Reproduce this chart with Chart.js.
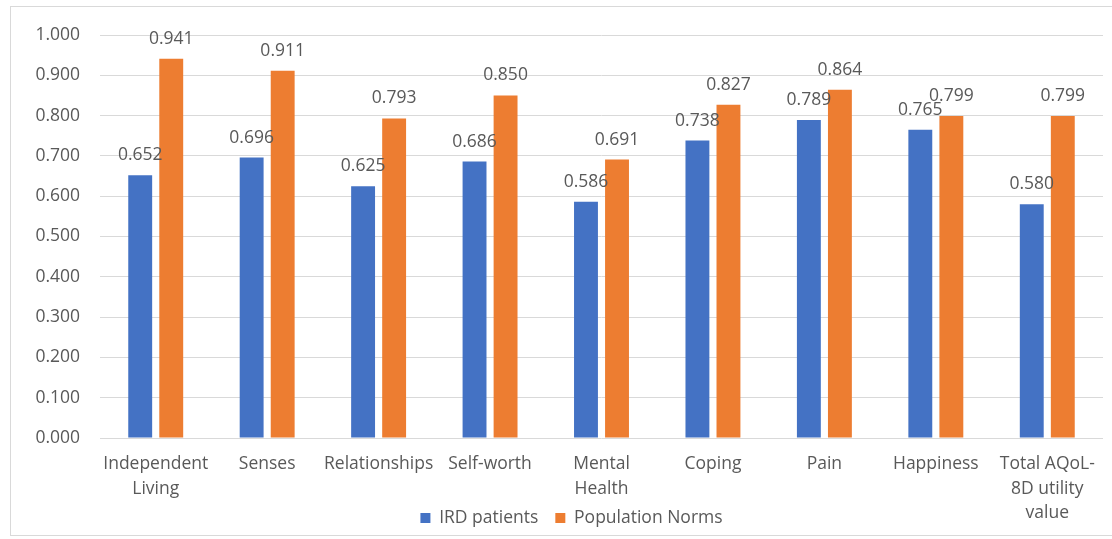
<!DOCTYPE html>
<html>
<head>
<meta charset="utf-8">
<script src="https://cdn.jsdelivr.net/npm/chart.js@4/dist/chart.umd.min.js"></script>
<style>
  html, body { margin: 0; padding: 0; background: #ffffff; }
  #wrap { position: relative; width: 1112px; height: 539px; overflow: hidden; }
  #frame { position: absolute; left: 10px; top: 6px; width: 1120px; height: 530px; border: 1px solid #d9d9d9; box-sizing: border-box; }
  #chart { position: absolute; left: 0; top: 0; }
</style>
</head>
<body>
<div id="wrap">
  <div id="frame"></div>
  <canvas id="chart" width="1112" height="539"></canvas>
</div>
<script>
// AQoL-8D dimension scores
const categories = [
  ['Independent', 'Living'],
  'Senses',
  'Relationships',
  'Self-worth',
  ['Mental', 'Health'],
  'Coping',
  'Pain',
  'Happiness',
  ['Total AQoL-', '8D utility', 'value']
];
const irdPatients = [0.652, 0.696, 0.625, 0.686, 0.586, 0.738, 0.789, 0.765, 0.580];
const populationNorms = [0.941, 0.911, 0.793, 0.850, 0.691, 0.827, 0.864, 0.799, 0.799];
const seriesNames = ['IRD patients', 'Population Norms'];

const textColor = '#595959';
const fontFamily = "'Open Sans', 'DejaVu Sans', sans-serif";
const fontSize = 17.5;
Chart.defaults.font.family = fontFamily;
Chart.defaults.color = textColor;

// Writes each bar's value above it with three decimals
const valueLabels = {
  id: 'valueLabels',
  afterDatasetsDraw(chart) {
    const ctx = chart.ctx;
    ctx.save();
    ctx.font = fontSize + 'px ' + fontFamily;
    ctx.fillStyle = textColor;
    ctx.textAlign = 'center';
    ctx.textBaseline = 'alphabetic';
    chart.data.datasets.forEach((ds, i) => {
      const meta = chart.getDatasetMeta(i);
      meta.data.forEach((bar, j) => {
        ctx.fillText(ds.data[j].toFixed(3), bar.x, bar.y - 15);
      });
    });
    ctx.restore();
  }
};

// Lets the category labels run below the axis box and tucks the legend
// up beside the last wrapped label line
const legendPlacement = {
  id: 'legendPlacement',
  afterLayout(chart) {
    const x = chart.scales.x;
    x.bottom = chart.height;
    const lg = chart.legend;
    const pad = lg.options.labels.padding;
    const h = lg.bottom - lg.top;
    lg.top = 518 - pad - fontSize / 2;
    lg.bottom = lg.top + h;
    lg.left += 20;
    lg.right += 20;
  }
};

new Chart(document.getElementById('chart'), {
  type: 'bar',
  data: {
    labels: categories,
    datasets: [
      { label: seriesNames[0], data: irdPatients, backgroundColor: '#4472C4',
        categoryPercentage: 0.557, barPercentage: 0.77 },
      { label: seriesNames[1], data: populationNorms, backgroundColor: '#ED7D31',
        categoryPercentage: 0.557, barPercentage: 0.77 }
    ]
  },
  options: {
    responsive: false,
    animation: false,
    layout: { padding: { top: 35, right: 9, bottom: 0, left: 0 } },
    plugins: {
      tooltip: { enabled: false },
      legend: {
        position: 'bottom',
        labels: {
          boxWidth: 10, boxHeight: 10, padding: 17,
          font: { size: fontSize }, color: textColor
        }
      }
    },
    scales: {
      x: {
        grid: { display: false, drawTicks: false },
        border: { display: false },
        ticks: {
          autoSkip: false, maxRotation: 0, minRotation: 0, padding: 14,
          font: { size: fontSize, lineHeight: 1.4 }, color: textColor
        },
        afterFit(scale) {
          // plot ends at y = 438 whatever height the legend takes
          const lg = scale.chart.legend;
          const lgH = lg && lg.height ? lg.height : 45.5;
          scale.height = 539 - 438 - lgH;
        }
      },
      y: {
        min: 0, max: 1,
        grid: { color: '#d9d9d9', lineWidth: 1, drawTicks: false },
        border: { display: false },
        ticks: {
          stepSize: 0.1, padding: 20,
          font: { size: fontSize }, color: textColor,
          callback: (v) => Number(v).toFixed(3)
        },
        afterFit(scale) { scale.width = 100; }
      }
    }
  },
  plugins: [valueLabels, legendPlacement]
});
</script>
</body>
</html>
